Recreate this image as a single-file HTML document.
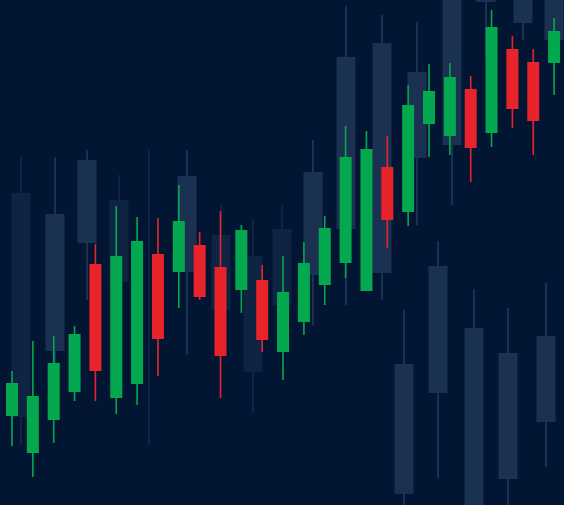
<!DOCTYPE html>
<html><head><meta charset="utf-8"><style>
html,body{margin:0;padding:0;background:#021533;}
svg{display:block}
</style></head><body>
<svg id="chart" width="564" height="505" viewBox="0 0 564 505">
<rect width="564" height="505" fill="#021533"/>
<g id="ghost"></g>
<g id="front"></g>
</svg>
<script>
// main series (price units = 505 - pixel)
const opens  = [89,52,85,113,241,107,121,251,233,260,238,215,225,153,183,220,242,214,338,293,381,369,416,372,456,443,442];
const closes = [122,109,142,171,134,249,264,166,284,208,149,275,165,213,242,277,348,356,285,400,414,428,357,478,396,384,474];
const highs  = [134,164,169,179,261,299,288,287,320,273,294,280,240,249,263,289,379,374,369,420,441,442,429,495,469,456,487];
const lows   = [59,28,62,104,104,91,100,129,197,205,107,192,153,125,170,200,227,214,257,279,348,350,323,358,377,350,410];
// ghost background series
const gOpen  = [88,154,262,223,200,233,195,133,200,230,276,232,347,360,505,482,465];
const gClose = [312,291,345,305,200,329,270,249,276,333,448,462,433,505,503,505,505];
const gHigh  = [349,348,355,330,355,355,300,286,300,365,499,490,483,505,505,505,505];
const gLow   = [60,100,205,150,60,150,160,92,180,180,200,205,280,300,448,465,430];
const gCx    = [21,55,87,119,149,187,221,253,282,313,346,382,417,452,486,523,554];
const gTone  = [0,1,1,0,0,1,0,0,0,1,1,1,1,1,1,1,1];
const g2Open = [11,112,0,26,83];
const g2Close= [141,239,177,152,169];
const g2High = [195,264,216,197,222];
const g2Low  = [0,27,0,0,38];
const g2Cx   = [404,438,474,508,546];

const NS='http://www.w3.org/2000/svg';
const y = v => 505 - v;
const xMain = i => 12 + i*20.85;
function mk(tag, attrs){const e=document.createElementNS(NS,tag);for(const k in attrs)e.setAttribute(k,attrs[k]);return e;}

const ghost=document.getElementById('ghost');
function drawGhost(cx,o,c,h,l,col,w){
  const g=mk('g',{});
  
  
  const wick=mk('line',{x1:cx,x2:cx,y1:y(h),y2:y(l),stroke:col,'stroke-width':2});
  
  
  const body=mk('rect',{x:cx-w/2,y:y(Math.max(o,c)),width:w,height:Math.abs(o-c),fill:col});
  
  
  g.appendChild(wick);g.appendChild(body);ghost.appendChild(g);
}
gCx.forEach((cx,i)=>drawGhost(cx,gOpen[i],gClose[i],gHigh[i],gLow[i],gTone[i]?'#1b3151':'#0e2442',19));
g2Cx.forEach((cx,i)=>drawGhost(cx,g2Open[i],g2Close[i],g2High[i],g2Low[i],'#1b3151',19));

const front=document.getElementById('front');
opens.forEach((o,i)=>{
  const c=closes[i], up=c>=o, col=up?'#04a94f':'#e8242a', cx=xMain(i);
  const g=mk('g',{});
  
  
  const wick=mk('line',{x1:cx,x2:cx,y1:y(highs[i]),y2:y(lows[i]),stroke:col,'stroke-width':1.6});
  
  
  const body=mk('rect',{x:cx-6,y:y(Math.max(o,c)),width:12,height:Math.abs(o-c),fill:col});
  
  
  g.appendChild(wick);g.appendChild(body);front.appendChild(g);
});
</script>
</body></html>
